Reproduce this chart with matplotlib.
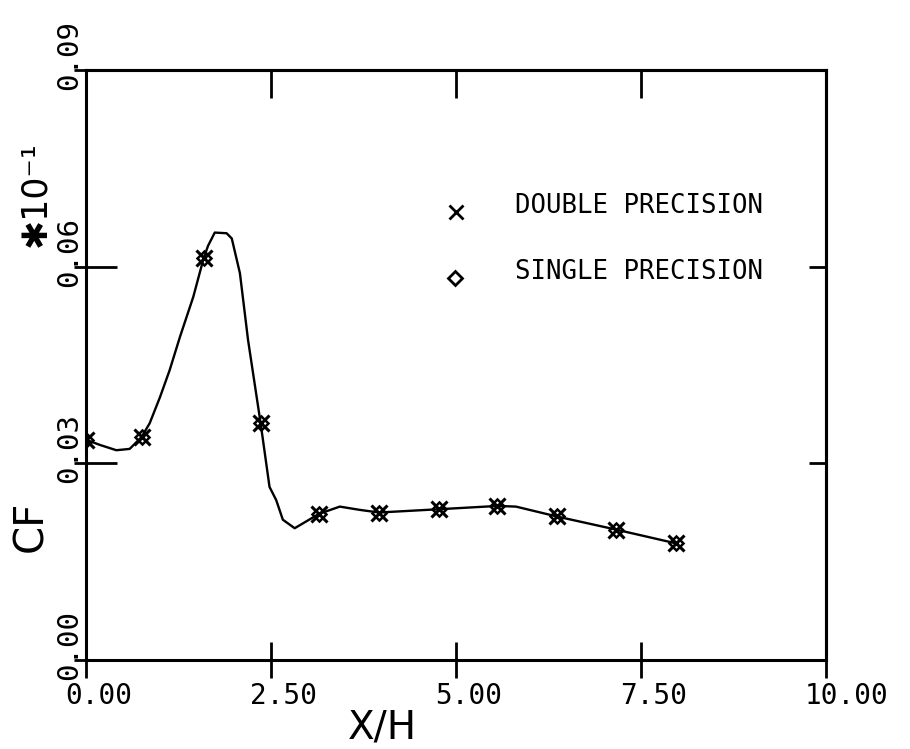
import matplotlib
matplotlib.use("Agg")
import matplotlib.pyplot as plt
from matplotlib.lines import Line2D
from matplotlib.transforms import ScaledTranslation

# Skin-friction coefficient along the wall (CF in units of 1e-1)
curve_x = [0.00, 0.19, 0.41, 0.59, 0.75, 0.86, 1.00, 1.13, 1.27, 1.45, 1.59,
           1.65, 1.74, 1.90, 1.97, 2.08, 2.19, 2.36, 2.48, 2.57, 2.66, 2.82,
           3.15, 3.43, 3.70, 3.96, 4.77, 5.56, 5.81, 6.36, 7.16, 7.97]
curve_y = [0.0336, 0.0328, 0.0320, 0.0322, 0.0340, 0.0361, 0.0401, 0.0442,
           0.0493, 0.0554, 0.0613, 0.0632, 0.0652, 0.0651, 0.0643, 0.0590,
           0.0488, 0.0361, 0.0264, 0.0244, 0.0214, 0.0201, 0.0223, 0.0234,
           0.0229, 0.0225, 0.0230, 0.0235, 0.0234, 0.0219, 0.0199, 0.0178]

station_x = [0.00, 0.75, 1.59, 2.36, 3.15, 3.96, 4.77, 5.56, 6.36, 7.16, 7.97]
cf_double = [0.0336, 0.0340, 0.0613, 0.0361, 0.0223, 0.0225, 0.0230, 0.0235,
             0.0219, 0.0199, 0.0178]
cf_single = [0.0336, 0.0340, 0.0613, 0.0361, 0.0223, 0.0225, 0.0230, 0.0235,
             0.0219, 0.0199, 0.0178]

x_ticks = [0.0, 2.5, 5.0, 7.5, 10.0]
x_tick_labels = ["0.00", "2.50", "5.00", "7.50", "10.00"]
y_ticks = [0.0, 0.03, 0.06, 0.09]
y_tick_labels = ["0.00", "0.03", "0.06", "0.09"]
legend_labels = ["DOUBLE PRECISION", "SINGLE PRECISION"]

W, H = 910, 749
fig = plt.figure(figsize=(W / 100, H / 100), dpi=100)
L, R, T, B = 86, 826, 70, 660
ax = fig.add_axes([L / W, 1 - B / H, (R - L) / W, (B - T) / H])
ax.set_xlim(0, 10)
ax.set_ylim(0, 0.09)


def fpx(x, y):
    """Pixel position (origin top-left) to figure fraction."""
    return x / W, 1 - y / H


def shift(dx, dy):
    return ScaledTranslation(dx / 100, dy / 100, fig.dpi_scale_trans)


mono = "DejaVu Sans Mono"
sans = "DejaVu Sans"

ax.plot(curve_x, curve_y, color="black", lw=1.7, solid_joinstyle="round")
ax.plot(station_x, cf_double, ls="none", marker="x", ms=11, mew=2.2,
        color="black")
ax.plot(station_x, cf_single, ls="none", marker="D", ms=7, mew=1.8,
        mfc="none", mec="black")

for sp in ax.spines.values():
    sp.set_linewidth(2.2)

# ticks
ax.set_xticks(x_ticks)
ax.set_yticks(y_ticks)
ax.xaxis.remove_overlapping_locs = False
ax.yaxis.remove_overlapping_locs = False
ax.set_yticks(y_ticks, minor=True)
ax.tick_params(axis="x", which="major", direction="inout", length=26,
               width=2, labelbottom=False)
ax.tick_params(axis="y", which="major", direction="in", length=22,
               width=2, labelleft=False)
ax.tick_params(axis="y", which="minor", direction="out", length=9,
               width=2, labelleft=False)

top = ax.secondary_xaxis("top")
top.set_xticks([2.5, 5.0, 7.5])
top.tick_params(direction="in", length=20, width=2, labeltop=False)
top.spines["top"].set_linewidth(2.2)
right = ax.secondary_yaxis("right")
right.set_yticks([0.03, 0.06])
right.tick_params(direction="in", length=12, width=2, labelright=False)
right.spines["right"].set_linewidth(2.2)

# tick labels
for v, s in zip(x_ticks, x_tick_labels):
    ax.text(v, 0, s, transform=ax.get_xaxis_transform() + shift(-21, -44),
            ha="left", va="baseline", family=mono, fontsize=20)
for v, s in zip(y_ticks, y_tick_labels):
    ax.text(0, v, s, transform=ax.get_yaxis_transform() + shift(-9, -20),
            rotation=90, rotation_mode="anchor", ha="left", va="baseline",
            family=mono, fontsize=21)

# axis titles
fig.text(*fpx(348, 738), "X/H", ha="left", va="baseline", family=sans,
         fontsize=28)
fig.text(*fpx(42, 552), "CF", rotation=90, rotation_mode="anchor",
         ha="left", va="baseline", family=sans, fontsize=29)
fig.text(*fpx(45, 247), "\u273110\u207b\u00b9", rotation=90,
         rotation_mode="anchor", ha="left", va="baseline", family=sans,
         fontsize=25)

# legend
fig.add_artist(Line2D([fpx(456, 212)[0]], [fpx(456, 212)[1]],
                      transform=fig.transFigure, ls="none", marker="x",
                      ms=10, mew=2.0, color="black"))
fig.add_artist(Line2D([fpx(455, 278)[0]], [fpx(455, 278)[1]],
                      transform=fig.transFigure, ls="none", marker="D",
                      ms=7, mew=2.0, mfc="none", mec="black"))
fig.text(*fpx(515, 213), legend_labels[0], ha="left", va="baseline",
         family=mono, fontsize=18.5)
fig.text(*fpx(515, 279), legend_labels[1], ha="left", va="baseline",
         family=mono, fontsize=18.5)

fig.savefig("out.png", dpi=100)
